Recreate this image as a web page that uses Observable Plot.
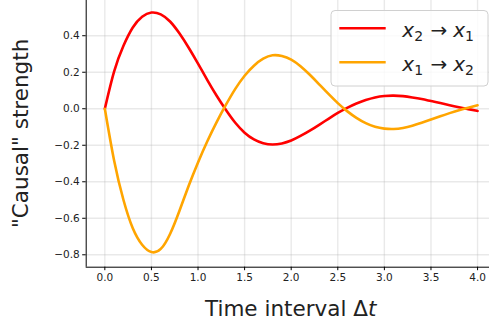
<!DOCTYPE html>
<html><head><meta charset="utf-8">
<script src="https://cdn.jsdelivr.net/npm/d3@7"></script>
<script src="https://cdn.jsdelivr.net/npm/@observablehq/plot@0.6"></script>
<style>
html,body{margin:0;padding:0;background:#fff;overflow:hidden}
#chart{width:489px;height:328px}
</style>
</head><body><div id="chart"></div>
<script>
// Time interval Δt
const times = [0.0,0.1,0.2,0.3,0.4,0.5,0.6,0.7,0.8,0.9,1.0,1.1,1.2,1.3,1.4,1.5,1.6,1.7,1.8,1.9,2.0,
               2.1,2.2,2.3,2.4,2.5,2.6,2.7,2.8,2.9,3.0,3.1,3.2,3.3,3.4,3.5,3.6,3.7,3.8,3.9,4.0];
// x2 -> x1 (red)
const redValues = [0, 0.205, 0.345, 0.445, 0.504, 0.527, 0.517, 0.478, 0.413, 0.334, 0.247,
                   0.157, 0.071, -0.007, -0.077, -0.131, -0.168, -0.189, -0.196, -0.19, -0.174,
                   -0.149, -0.12, -0.088, -0.055, -0.023, 0.005, 0.029, 0.048, 0.062, 0.07,
                   0.072, 0.069, 0.062, 0.053, 0.042, 0.031, 0.019, 0.008, -0.002, -0.012];
// x1 -> x2 (orange)
const orangeValues = [0, -0.285, -0.5, -0.655, -0.745, -0.785, -0.768, -0.686, -0.56, -0.422, -0.294,
                      -0.178, -0.073, 0.022, 0.109, 0.181, 0.236, 0.274, 0.293, 0.289, 0.269,
                      0.233, 0.186, 0.134, 0.081, 0.031, -0.013, -0.05, -0.079, -0.099, -0.109,
                      -0.111, -0.105, -0.093, -0.077, -0.059, -0.041, -0.024, -0.008, 0.006, 0.019];
const seriesNames = ["x2→x1", "x1→x2"];
const seriesColors = ["#ff0000", "#ffa500"];
const legendSubs = [["2", "1"], ["1", "2"]];
const xTicks = [0.0, 0.5, 1.0, 1.5, 2.0, 2.5, 3.0, 3.5, 4.0];
const yTicks = [-0.8, -0.6, -0.4, -0.2, 0.0, 0.2, 0.4];
const xDomain = [-0.2, 4.2];
const yDomain = [-0.868, 0.593];
const xLabel = "Time interval Δ";
const xLabelItalic = "t";
const yLabel = "\"Causal\" strength";

const data = [];
times.forEach((t, i) => {
  data.push({t, v: redValues[i], s: seriesNames[0]});
  data.push({t, v: orangeValues[i], s: seriesNames[1]});
});

const fmt = d => (d < 0 ? "\u2212" + Math.abs(d).toFixed(1) : d.toFixed(1));
const gridStyle = {stroke: "#b0b0b0", strokeOpacity: 0.28, strokeWidth: 1.4};

const plot = Plot.plot({
  width: 489, height: 328,
  marginLeft: 85.7, marginRight: -6.7, marginTop: 0, marginBottom: 61.3,
  x: {domain: xDomain},
  y: {domain: yDomain},
  color: {domain: seriesNames, range: seriesColors},
  style: {fontFamily: "DejaVu Sans", fontSize: "10.5px", color: "#222", background: "white"},
  marks: [
    Plot.gridX(xTicks, gridStyle),
    Plot.gridY(yTicks, gridStyle),
    Plot.axisX(xTicks, {tickSize: 3.5, tickPadding: 3, tickFormat: fmt, label: null, stroke: "#000"}),
    Plot.axisY(yTicks, {tickSize: 3.5, tickPadding: 3, tickFormat: fmt, label: null, stroke: "#000"}),
    Plot.ruleX([xDomain[0]], {stroke: "#000", strokeWidth: 1}),
    Plot.ruleY([yDomain[0]], {stroke: "#000", strokeWidth: 1}),
    Plot.line(data, {x: "t", y: "v", z: "s", stroke: "s", strokeWidth: 2.6, curve: "natural"})
  ]
});
document.getElementById("chart").appendChild(plot);

const svg = d3.select(plot);
// axis labels
const xl = svg.append("text").attr("x", 290.7).attr("y", 316).attr("text-anchor", "middle")
  .attr("font-family", "DejaVu Sans").attr("font-size", 21.5).attr("fill", "#222");
xl.append("tspan").text(xLabel);
xl.append("tspan").attr("font-style", "italic").text(xLabelItalic);
svg.append("text").attr("transform", "translate(28,133.4) rotate(-90)").attr("text-anchor", "middle")
  .attr("font-family", "DejaVu Sans").attr("font-size", 21.5).attr("fill", "#222").text(yLabel);

// legend
const lg = svg.append("g");
lg.append("rect").attr("x", 331).attr("y", 10.5).attr("width", 157).attr("height", 75.5).attr("rx", 4)
  .attr("fill", "white").attr("fill-opacity", 0.8).attr("stroke", "#d0d0d0").attr("stroke-width", 1);
seriesNames.forEach((n, i) => {
  const yy = 28.3 + i * 34;
  lg.append("line").attr("x1", 339.3).attr("x2", 385.7).attr("y1", yy).attr("y2", yy)
    .attr("stroke", seriesColors[i]).attr("stroke-width", 2.6);
  const tx = lg.append("text").attr("x", 402.3).attr("y", yy + 9).attr("text-anchor", "start")
    .attr("font-family", "DejaVu Sans").attr("font-size", 20).attr("fill", "#222");
  tx.append("tspan").attr("font-style", "italic").text("x");
  tx.append("tspan").attr("font-size", 14).attr("dy", 3.5).text(legendSubs[i][0]);
  tx.append("tspan").attr("dx", 7.5).attr("dy", -3.5).text("→");
  tx.append("tspan").attr("dx", 5.8).attr("font-style", "italic").text("x");
  tx.append("tspan").attr("font-size", 14).attr("dy", 3.5).text(legendSubs[i][1]);
});
</script>
</body></html>
